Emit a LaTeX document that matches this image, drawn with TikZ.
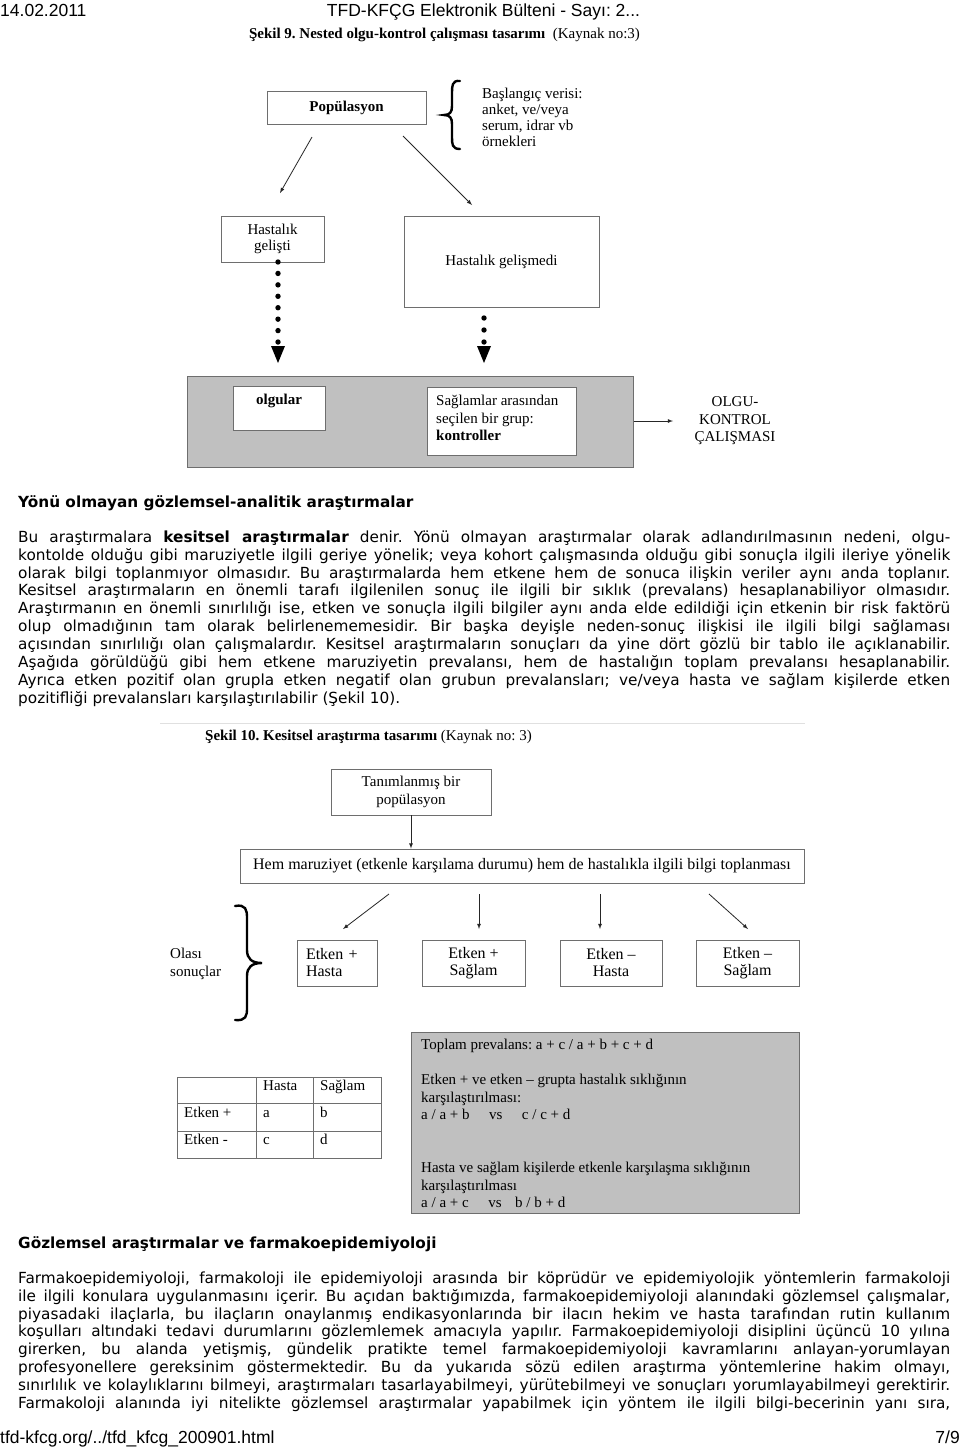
\documentclass[tikz,border=0pt]{standalone}
\usepackage{fontspec}
\setmainfont{Liberation Serif}
\newfontfamily\pagefont{DejaVu Sans}
\newfontfamily\headfont{Liberation Sans}
\usetikzlibrary{arrows}
\definecolor{panelgray}{HTML}{C0C0C0}
\definecolor{edgegray}{HTML}{6E6E6E}
\frenchspacing
\tikzset{
  figtext/.style={font=\fontsize{15}{16}\selectfont, inner sep=0pt},
  figtextb/.style={font=\fontsize{15}{17.5}\selectfont, inner sep=0pt},
  figtextc/.style={font=\fontsize{16}{17}\selectfont, inner sep=0pt},
  figbold/.style={font=\fontsize{15}{16}\selectfont\bfseries, inner sep=0pt},
  figbox/.style={draw=edgegray, line width=0.9pt, fill=white, inner sep=0pt},
  panelbox/.style={draw=edgegray, line width=1pt, fill=panelgray, inner sep=0pt},
  figarrow/.style={-latex, line width=0.8pt, black!85},
  brace/.style={line width=2.4pt, line cap=round},
  tableline/.style={edgegray, line width=0.9pt},
  pagehead/.style={font=\headfont\fontsize{17.5}{20}\selectfont, inner sep=0pt},
  pagetext/.style={font=\pagefont\fontsize{15.3}{17.9}\selectfont, inner sep=0pt, anchor=north west},
  pagebold/.style={font=\pagefont\fontsize{15.3}{17.9}\selectfont\bfseries, inner sep=0pt},
}
\newcommand\jline[1]{\hbox to\hsize{\strut #1}}
\newcommand\lastline[1]{\hbox{\strut #1}}
\begin{document}
\begin{tikzpicture}[x=1pt, y=-1pt]
  \useasboundingbox (0,0) rectangle (960,1449);
  \fill [white] (0,0) rectangle (960,1449);
  % page head
  \node [pagehead, anchor=base west] (tarih) at (0,16) {14.02.2011};
  \node [pagehead, anchor=base] (bulten) at (483.5,16) {TFD-KFÇG Elektronik Bülteni - Sayı: 2...};
  % Sekil 9
  \node [figtext, anchor=base] (baslik9) at (444.5,38) {\textbf{Şekil 9. Nested olgu-kontrol çalışması tasarımı}\ \ (Kaynak no:3)};
  \node [figbox, figbold, minimum width=159pt, minimum height=33pt] (pop) at (346.5,107.5) {Popülasyon};
  \draw [brace] (460,81) .. controls (452,80) and (452,86) .. (452,93) -- (452,106) .. controls (452,112) and (450,115) .. (444,115) .. controls (450,115) and (452,118) .. (452,124) -- (452,137) .. controls (452,144) and (452,149) .. (460,149);
  \node [figtext, align=left, anchor=north west] (veri) at (482,87.3) {\strut Başlangıç verisi:\\anket, ve/veya\\serum, idrar vb\\örnekleri};
  \coordinate (p1) at (312,137);
  \coordinate (g1) at (280,193);
  \coordinate (p2) at (403,136);
  \coordinate (g2) at (472,205);
  \draw [figarrow] (p1) -- (g1);
  \draw [figarrow] (p2) -- (g2);
  \node [figbox, figtext, minimum width=103pt, minimum height=46pt, align=center] (gelisti) at (272.5,239) {Hastalık\\gelişti};
  \node [figbox, figtext, minimum width=195pt, minimum height=91pt] (gelismedi) at (501.5,261.5) {Hastalık gelişmedi};
  \foreach \k in {0,...,7}
    \fill (278,262+11.43*\k) circle (2.7);
  \fill (271,346) -- (285,346) -- (278,363) -- cycle;
  \foreach \k in {0,1,2}
    \fill (484,318+12*\k) circle (2.7);
  \fill (477,346) -- (491,346) -- (484,363) -- cycle;
  \node [panelbox, minimum width=446pt, minimum height=91pt] (panel) at (410,421.5) {};
  \node [figbox, minimum width=92pt, minimum height=44pt] (olgular) at (279,408) {};
  \node [figbold, anchor=base] (olgularyazi) at (279,404.5) {olgular};
  \node [figbox, minimum width=149pt, minimum height=68pt] (kontroller) at (501.5,421) {};
  \node [figtextb, align=left, anchor=north west] (kontrolyazi) at (436,393.25) {\strut Sağlamlar arasından\\seçilen bir grup:\\\textbf{kontroller}};
  \coordinate (sonuc) at (673,421);
  \draw [figarrow] (panel.east |- sonuc) -- (sonuc);
  \node [figtextb, align=center, anchor=north] (olgukontrol) at (735,394.25) {\strut OLGU-\\KONTROL\\ÇALIŞMASI};
  % text 1
  \node [pagebold, anchor=base west] (baslik1) at (18,507) {Yönü olmayan gözlemsel-analitik araştırmalar};
  \node [pagetext] (metin1) at (18,529.47) {\vbox{\hsize=932pt
    \jline{Bu araştırmalara \textbf{kesitsel araştırmalar} denir. Yönü olmayan araştırmalar olarak adlandırılmasının nedeni, olgu-}
    \jline{kontolde olduğu gibi maruziyetle ilgili geriye yönelik; veya kohort çalışmasında olduğu gibi sonuçla ilgili ileriye yönelik}
    \jline{olarak bilgi toplanmıyor olmasıdır. Bu araştırmalarda hem etkene hem de sonuca ilişkin veriler aynı anda toplanır.}
    \jline{Kesitsel araştırmaların en önemli tarafı ilgilenilen sonuç ile ilgili bir sıklık (prevalans) hesaplanabiliyor olmasıdır.}
    \jline{Araştırmanın en önemli sınırlılığı ise, etken ve sonuçla ilgili bilgiler aynı anda elde edildiği için etkenin bir risk faktörü}
    \jline{olup olmadığının tam olarak belirlenememesidir. Bir başka deyişle neden-sonuç ilişkisi ile ilgili bilgi sağlaması}
    \jline{açısından sınırlılığı olan çalışmalardır. Kesitsel araştırmaların sonuçları da yine dört gözlü bir tablo ile açıklanabilir.}
    \jline{Aşağıda görüldüğü gibi hem etkene maruziyetin prevalansı, hem de hastalığın toplam prevalansı hesaplanabilir.}
    \jline{Ayrıca etken pozitif olan grupla etken negatif olan grubun prevalansları; ve/veya hasta ve sağlam kişilerde etken}
    \lastline{pozitifliği prevalansları karşılaştırılabilir (Şekil 10).}}};
  % Sekil 10
  \draw [black!12, line width=0.8pt] (160,723) -- (805,723);
  \node [figtext, anchor=base west] (baslik10) at (205,740) {\textbf{Şekil 10. Kesitsel araştırma tasarımı} (Kaynak no: 3)};
  \node [figbox, figtextb, minimum width=160pt, minimum height=46pt, align=center] (tanim) at (411,792) {Tanımlanmış bir\\popülasyon};
  \node [figbox, figtextc, minimum width=564pt, minimum height=34pt] (bilgi) at (522,866) {Hem maruziyet (etkenle karşılama durumu) hem de hastalıkla ilgili bilgi toplanması};
  \draw [figarrow] (tanim.south) -- (tanim.south |- bilgi.north);
  \node [figbox, figtextc, minimum width=80pt, minimum height=46pt, text width=62pt, align=left] (ehasta) at (337,963) {Etken +\\Hasta};
  \node [figbox, figtextc, minimum width=103pt, minimum height=46pt, align=center] (esaglam) at (473.5,963) {Etken +\\Sağlam};
  \node [figbox, figtextc, minimum width=102pt, minimum height=46pt, align=center] (ehastaneg) at (611,963) {Etken –\\Hasta};
  \node [figbox, figtextc, minimum width=103pt, minimum height=46pt, align=center] (esaglamneg) at (747.5,963) {Etken –\\Sağlam};
  \coordinate (d1) at (389,894);
  \coordinate (d2) at (479,894);
  \coordinate (d3) at (600,894);
  \coordinate (d4) at (709,894);
  \coordinate (e1) at (343,929);
  \coordinate (e2) at (479,929);
  \coordinate (e3) at (600,929);
  \coordinate (e4) at (748,929);
  \foreach \i in {1,...,4}
    \draw [figarrow] (d\i) -- (e\i);
  \draw [brace] (235,906) .. controls (246,904) and (247,910) .. (247,918) -- (247,950) .. controls (247,959) and (252,963) .. (262,963) .. controls (252,963) and (247,967) .. (247,976) -- (247,1008) .. controls (247,1016) and (246,1021) .. (235,1020);
  \node [figtextb, align=left, anchor=north west] (olasi) at (170,946.25) {\strut Olası\\sonuçlar};
  % dort gozlu tablo
  \draw [tableline] (177,1077) rectangle (381,1158);
  \draw [tableline] (177,1103) -- (381,1103) (177,1131) -- (381,1131) (256,1077) -- (256,1158) (313,1077) -- (313,1158);
  \foreach \x/\y/\t [count=\i] in {263/1090.5/Hasta, 320/1090.5/Sağlam, 184/1117.5/Etken +, 263/1117.5/a, 320/1117.5/b, 184/1144.5/Etken -, 263/1144.5/c, 320/1144.5/d}
    \node [figtext, anchor=base west] (hucre\i) at (\x,\y) {\t};
  \node [panelbox, minimum width=388pt, minimum height=181pt] (prevalans) at (605,1122.5) {};
  \node [figtext, anchor=base west] (toplam) at (421,1049.5) {Toplam prevalans: a + c / a + b + c + d};
  \node [figtextb, align=left, anchor=north west] (grupetken) at (421,1072.25) {\strut Etken + ve etken – grupta hastalık sıklığının\\karşılaştırılması:\\a / a + b \hspace{12pt} vs \hspace{12pt} c / c + d};
  \node [figtextb, align=left, anchor=north west] (grupsaglam) at (421,1160.25) {\strut Hasta ve sağlam kişilerde etkenle karşılaşma sıklığının\\karşılaştırılması\\a / a + c \hspace{12pt} vs \hspace{6pt} b / b + d};
  % text 2
  \node [pagebold, anchor=base west] (baslik2) at (18,1248) {Gözlemsel araştırmalar ve farmakoepidemiyoloji};
  \node [pagetext] (metin2) at (18,1270.47) {\vbox{\hsize=932pt
    \jline{Farmakoepidemiyoloji, farmakoloji ile epidemiyoloji arasında bir köprüdür ve epidemiyolojik yöntemlerin farmakoloji}
    \jline{ile ilgili konulara uygulanmasını içerir. Bu açıdan baktığımızda, farmakoepidemiyoloji alanındaki gözlemsel çalışmalar,}
    \jline{piyasadaki ilaçlarla, bu ilaçların onaylanmış endikasyonlarında bir ilacın hekim ve hasta tarafından rutin kullanım}
    \jline{koşulları altındaki tedavi durumlarını gözlemlemek amacıyla yapılır. Farmakoepidemiyoloji disiplini üçüncü 10 yılına}
    \jline{girerken, bu alanda yetişmiş, gündelik pratikte temel farmakoepidemiyoloji kavramlarını anlayan-yorumlayan}
    \jline{profesyonellere gereksinim göstermektedir. Bu da yukarıda sözü edilen araştırma yöntemlerine hakim olmayı,}
    \jline{sınırlılık ve kolaylıklarını bilmeyi, araştırmaları tasarlayabilmeyi, yürütebilmeyi ve sonuçları yorumlayabilmeyi gerektirir.}
    \jline{Farmakoloji alanında iyi nitelikte gözlemsel araştırmalar yapabilmek için yöntem ile ilgili bilgi-becerinin yanı sıra,}}};
  % page foot
  \node [pagehead, anchor=base west] (adres) at (0,1443) {tfd-kfcg.org/../tfd\_kfcg\_200901.html};
  \node [pagehead, anchor=base east] (sayfa) at (960,1443) {7/9};
\end{tikzpicture}
\end{document}
